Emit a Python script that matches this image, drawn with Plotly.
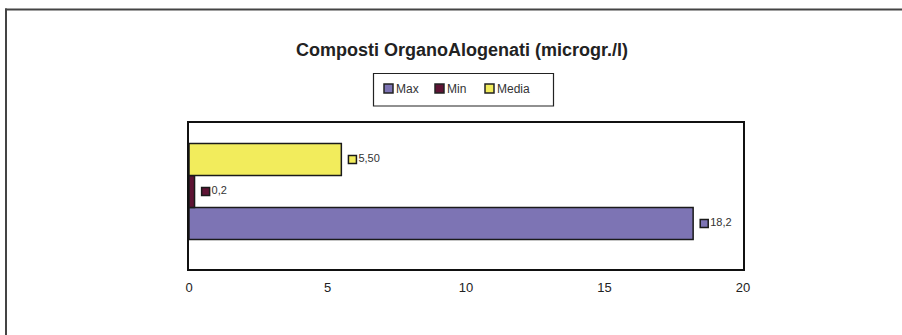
import plotly.graph_objects as go

# Series data (one group, three measures)
series = ["Max", "Min", "Media"]
values = [18.2, 0.2, 5.5]
value_labels = ["18,2", "0,2", "5,50"]
colors = ["#7D74B4", "#5E1334", "#F2EC5C"]
x_ticks = [0, 5, 10, 15, 20]

FONT = "Liberation Sans, Arial, sans-serif"

# plot area in pixels
L, R, T, B = 189, 743, 123, 269
W, H = R - L, B - T


def px(x):
    return (x - L) / W


def py(y):
    return (B - y) / H


fig = go.Figure()

# bars, stacked bottom-to-top at integer rows
for i, (name, v, c) in enumerate(zip(series, values, colors)):
    fig.add_trace(go.Bar(
        x=[v], y=[i], orientation="h", name=name,
        marker=dict(color=c, line=dict(color="#1a1a1a", width=1.5)),
        width=1.0, showlegend=False,
    ))

# value labels with a small key square just past each bar end
for i, (v, lab, c) in enumerate(zip(values, value_labels, colors)):
    fig.add_trace(go.Scatter(
        x=[v + 0.4], y=[i], mode="markers+text",
        marker=dict(symbol="square", size=8, color=c,
                    line=dict(color="#1a1a1a", width=1.5)),
        text=[lab], textposition="middle right",
        textfont=dict(family=FONT, size=11, color="#333"),
        showlegend=False, hoverinfo="skip", cliponaxis=False,
    ))

shapes = [
    # outer frame: top and left edges
    dict(type="line", xref="paper", yref="paper",
         x0=px(5), x1=px(902), y0=py(9.5), y1=py(9.5),
         line=dict(color="#444", width=2)),
    dict(type="line", xref="paper", yref="paper",
         x0=px(6), x1=px(6), y0=py(8.5), y1=py(335),
         line=dict(color="#444", width=2)),
    # legend box
    dict(type="rect", xref="paper", yref="paper",
         x0=px(373.5), x1=px(553.5), y0=py(106), y1=py(73.5),
         line=dict(color="#222", width=1.2), fillcolor="white"),
]
annotations = [dict(
    text="<b>Composti OrganoAlogenati (microgr./l)</b>",
    xref="paper", yref="paper", x=px(462), y=py(50),
    xanchor="center", yanchor="middle", showarrow=False,
    font=dict(family=FONT, size=18, color="#222"),
)]
legend_x = [384, 435, 485]
for name, c, x0 in zip(series, colors, legend_x):
    shapes.append(dict(type="rect", xref="paper", yref="paper",
                       x0=px(x0), x1=px(x0 + 9), y0=py(93), y1=py(84),
                       line=dict(color="#222", width=1.5), fillcolor=c))
    annotations.append(dict(text=name, xref="paper", yref="paper",
                            x=px(x0 + 10), y=py(88.5), xanchor="left",
                            yanchor="middle", showarrow=False,
                            font=dict(family=FONT, size=12, color="#333")))

fig.update_layout(
    width=902, height=335,
    margin=dict(l=L, r=902 - R, t=T, b=335 - B),
    paper_bgcolor="white", plot_bgcolor="white",
    barmode="overlay",
    showlegend=False,
    xaxis=dict(
        range=[0, 20], tickvals=x_ticks, ticktext=[str(t) for t in x_ticks],
        showgrid=False, zeroline=False, ticks="", ticklabelstandoff=6,
        showline=True, linecolor="#111", linewidth=1.5, mirror=True,
        tickfont=dict(family=FONT, size=13, color="#222"),
        fixedrange=True,
    ),
    yaxis=dict(
        range=[-1.42, 3.14], showticklabels=False, showgrid=False,
        zeroline=False, ticks="",
        showline=True, linecolor="#111", linewidth=1.5, mirror=True,
        fixedrange=True,
    ),
    annotations=annotations,
    shapes=shapes,
)

fig.write_html("out.html")
